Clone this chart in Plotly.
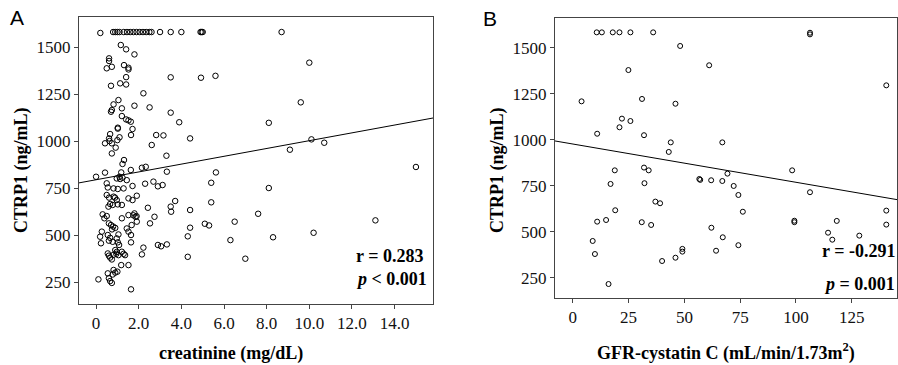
import plotly.graph_objects as go

# ---------------- data: panel A (creatinine vs CTRP1) ----------------
a_top_x = [0.2, 0.8, 0.9, 1.0, 1.1, 1.3, 1.45, 1.6, 1.75, 1.9, 2.05, 2.2, 2.35, 2.5, 2.6,
           3.0, 3.5, 4.0, 4.9, 4.95, 5.0, 8.7]
a_top_y = [1575] + [1580] * 21

a_x = [1.16, 1.41, 1.80, 0.61, 0.61, 0.50, 0.74, 1.31, 1.52, 1.52, 1.41, 3.5, 4.92, 5.6,
       0.70, 1.13, 1.41, 2.22, 1.05, 0.82, 0.74, 0.70, 1.21, 1.80, 2.51, 1.21, 1.41, 1.52,
       1.63, 3.5, 3.9, 1.02, 1.02, 1.71, 0.66, 0.61, 0.63, 0.42, 1.10, 1.0, 0.74, 1.64,
       2.82, 3.16, 4.41, 8.1, 10.0, 9.6, 10.1, 10.7, 9.09, 15.0,
       0.92, 1.31, 1.24, 2.61, 3.3, 0.74, 2.15, 2.33, 1.63, 0.0, 0.42, 1.18, 1.10, 0.97,
       1.13, 1.24, 1.44, 3.32, 5.62, 0.50, 0.55, 0.82, 1.02, 1.29, 1.71, 2.30, 2.69, 2.9,
       3.12, 5.4, 8.1, 0.50, 0.61, 0.82, 0.89, 0.97, 1.52, 1.71, 1.91, 0.66, 0.78, 0.58,
       1.02, 1.21, 2.43, 3.71, 3.5, 3.52, 4.41, 5.4, 7.6, 1.8, 1.75, 1.9, 1.85, 1.21, 1.52,
       0.31, 0.50, 0.39, 2.74,
       2.53, 1.67, 1.91, 0.6, 0.7, 0.8, 0.9, 0.75, 1.44, 1.52, 1.64, 0.27, 0.19, 0.23,
       0.55, 0.66, 0.78, 0.60, 0.97, 1.05, 1.02, 1.08, 1.64, 2.22, 2.15, 2.9, 3.05, 3.32,
       0.55, 0.6, 0.66, 0.74, 0.82, 0.9, 0.97, 1.05, 0.95, 1.21, 1.29, 1.36, 1.52, 1.18,
       0.82, 0.9, 0.78, 1.0, 0.55, 0.6, 0.66, 0.74, 0.11, 1.64, 4.41, 4.3, 5.1, 5.3, 6.5,
       6.3, 8.3, 4.3, 7.0, 10.2, 13.1]
a_y = [1511, 1488, 1461, 1440, 1426, 1387, 1395, 1404, 1390, 1381, 1340, 1339, 1337, 1347,
       1294, 1307, 1301, 1254, 1218, 1195, 1165, 1156, 1174, 1188, 1179, 1133, 1115, 1110,
       1103, 1151, 1100, 1071, 1066, 1064, 1037, 1014, 1000, 988, 1020, 1005, 988, 1032,
       1032, 1030, 1014, 1097, 1417, 1206, 1009, 991, 954, 862,
       965, 899, 878, 979, 922, 934, 858, 863, 846, 810, 832, 833, 810, 801,
       798, 805, 792, 837, 833, 775, 753, 748, 745, 748, 761, 773, 784, 759,
       766, 778, 750, 713, 699, 704, 699, 686, 695, 686, 709, 665, 660, 651,
       663, 660, 645, 681, 651, 624, 633, 674, 613, 615, 605, 600, 597, 589, 606,
       610, 601, 589, 597,
       562, 553, 571, 562, 553, 545, 538, 530, 535, 518, 500, 518, 491, 456,
       500, 485, 464, 470, 482, 503, 461, 447, 461, 433, 397, 447, 440, 450,
       402, 390, 380, 370, 395, 420, 410, 393, 400, 411, 400, 393, 340, 340,
       314, 300, 290, 305, 296, 270, 255, 245, 264, 211, 539, 493, 560, 551, 571,
       473, 488, 384, 374, 512, 578]
a_fit = {"intercept": 794, "slope": 20.8}
a_r_text = "<b>r = 0.283</b>"
a_p_text = "<b><i>p</i> &lt; 0.001</b>"

# ---------------- data: panel B (GFR-cystatin C vs CTRP1) ----------------
b_x = [10.7, 13.0, 17.9, 20.9, 25.8, 36.0, 106.3, 106.3,
       48.1, 24.9, 3.9, 31.0, 46.0, 22.0, 20.9, 25.8, 10.9, 31.9, 43.9, 43.0, 18.8, 31.9,
       34.0, 56.7, 16.9, 32.1, 37.0, 39.1, 19.0, 10.9, 14.9, 30.9, 35.1, 8.9, 9.9, 40.0,
       46.0, 49.1, 49.1, 16.0, 61.1, 140.5, 67.0, 69.3, 98.3, 57.1, 62.0, 67.0, 72.1, 74.2,
       76.2, 106.3, 62.1, 67.2, 64.2, 74.2, 99.3, 99.3, 118.3, 114.4, 116.3, 128.4, 140.5,
       140.5]
b_y = [1585, 1585, 1585, 1585, 1585, 1585, 1583, 1574,
       1511, 1380, 1210, 1223, 1197, 1116, 1069, 1103, 1034, 1026, 987, 935, 835, 850,
       835, 788, 761, 765, 665, 656, 618, 556, 565, 553, 538, 451, 380, 342,
       360, 408, 393, 217, 1406, 1297, 987, 817, 835, 783, 781, 777, 750, 701,
       610, 716, 523, 471, 398, 428, 561, 553, 560, 496, 458, 480, 616,
       540]
b_fit = {"intercept": 978, "slope": -2.08}
b_r_text = "<b>r = -0.291</b>"
b_p_text = "<b><i>p</i> = 0.001</b>"

# ---------------- tick labels ----------------
y_ticks = [250, 500, 750, 1000, 1250, 1500]
a_xticks = [0, 2, 4, 6, 8, 10, 12, 14]
a_xticktext = ["0", "2.0", "4.0", "6.0", "8.0", "10.0", "12.0", "14.0"]
b_xticks = [0, 25, 50, 75, 100, 125]

a_xrange = [-0.8, 15.8]
a_yrange = [133, 1660]
b_xrange = [-8, 145.3]
b_yrange = [141, 1663]

W, H = 898, 365
FONT = "Liberation Serif"

def px(x):
    return x / W

def py(y):
    return 1 - y / H

fig = go.Figure()
marker = dict(symbol="circle-open", size=5.5, color="black", line=dict(width=1, color="black"))

fig.add_trace(go.Scatter(x=a_top_x + a_x, y=a_top_y + a_y, mode="markers",
                         marker=marker, xaxis="x", yaxis="y", showlegend=False))
fig.add_trace(go.Scatter(x=a_xrange,
                         y=[a_fit["intercept"] + a_fit["slope"] * v for v in a_xrange],
                         mode="lines", line=dict(color="black", width=1),
                         xaxis="x", yaxis="y", showlegend=False))
fig.add_trace(go.Scatter(x=b_x, y=b_y, mode="markers", marker=dict(marker, size=5),
                         xaxis="x2", yaxis="y2", showlegend=False))
fig.add_trace(go.Scatter(x=b_xrange,
                         y=[b_fit["intercept"] + b_fit["slope"] * v for v in b_xrange],
                         mode="lines", line=dict(color="black", width=1),
                         xaxis="x2", yaxis="y2", showlegend=False))

axis_common = dict(showgrid=False, zeroline=False, showline=True, linecolor="#444",
                   linewidth=1, mirror=True, ticks="outside", ticklen=4, tickcolor="#444",
                   tickfont=dict(family=FONT, size=17, color="#111"))

fig.update_layout(
    width=W, height=H,
    margin=dict(l=0, r=0, t=0, b=0),
    paper_bgcolor="white", plot_bgcolor="white",
    font=dict(family=FONT),
    xaxis=dict(axis_common, domain=[px(79), px(433)], range=a_xrange,
               tickvals=a_xticks, ticktext=a_xticktext, anchor="y"),
    yaxis=dict(axis_common, domain=[py(304), py(17)], range=a_yrange,
               tickvals=y_ticks, anchor="x"),
    xaxis2=dict(axis_common, domain=[px(555), px(897)], range=b_xrange,
                tickvals=b_xticks, anchor="y2"),
    yaxis2=dict(axis_common, domain=[py(298), py(18)], range=b_yrange,
                tickvals=y_ticks, anchor="x2"),
)

ann = []
def add(text, x, y, size=18, xanchor="center", angle=0, family=FONT):
    ann.append(dict(text=text, x=px(x), y=py(y), xref="paper", yref="paper",
                    showarrow=False, xanchor=xanchor, yanchor="middle", textangle=angle,
                    font=dict(family=family, size=size, color="black")))

add("A", 17, 17, size=21, family="Liberation Sans")
add("B", 490, 18, size=21, family="Liberation Sans")
add("<b>CTRP1 (ng/mL)</b>", 21, 170, size=18, angle=-90)
add("<b>CTRP1 (ng/mL)</b>", 497, 170, size=18, angle=-90)
add("<b>creatinine (mg/dL)</b>", 231, 353, size=18)
add("<b>GFR-cystatin C (mL/min/1.73m<sup>2</sup>)</b>", 726, 352, size=18)
add(a_r_text, 425, 256, xanchor="right")
add(a_p_text, 429, 279, xanchor="right")
add(b_r_text, 897, 251, xanchor="right")
add(b_p_text, 897, 284, xanchor="right")
fig.update_layout(annotations=ann)

fig.write_html("out.html",
               config={"displayModeBar": False},
               post_script="document.body.style.margin='0';"
                           "document.body.style.overflow='hidden';")
